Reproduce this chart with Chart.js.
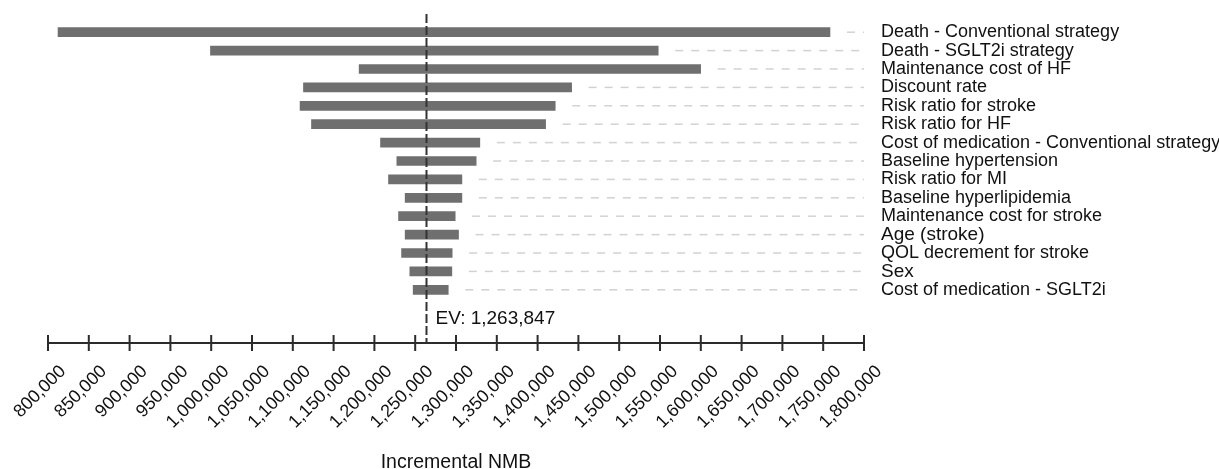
<!DOCTYPE html>
<html>
<head>
<meta charset="utf-8">
<script src="https://cdn.jsdelivr.net/npm/chart.js@4"></script>
<style>
  body { margin: 0; background: #fff; }
  canvas { display: block; }
</style>
</head>
<body>
<canvas id="tornado" width="1219" height="469"></canvas>
<script>
// parameters, top to bottom
const params = [
  'Death - Conventional strategy',
  'Death - SGLT2i strategy',
  'Maintenance cost of HF',
  'Discount rate',
  'Risk ratio for stroke',
  'Risk ratio for HF',
  'Cost of medication - Conventional strategy',
  'Baseline hypertension',
  'Risk ratio for MI',
  'Baseline hyperlipidemia',
  'Maintenance cost for stroke',
  'Age (stroke)',
  'QOL decrement for stroke',
  'Sex',
  'Cost of medication - SGLT2i'
];
// incremental NMB at low / high end of each range
const lowNMB = [812300, 999100, 1181300, 1113100, 1108900, 1122900, 1207500, 1227500,
  1217300, 1237700, 1229600, 1237700, 1233300, 1243400, 1247500];
const highNMB = [1758300, 1547800, 1599800, 1441700, 1421600, 1409800, 1329200, 1324700,
  1307200, 1307200, 1299000, 1303100, 1295300, 1294900, 1290500];
const evValue = 1263847;
const axisMin = 800000;
const axisMax = 1800000;
const axisStep = 50000;

const FONT = 'Arial, "Liberation Sans", sans-serif';
const fmt = v => Math.round(v).toString().replace(/\B(?=(\d{3})+(?!\d))/g, ',');

// dashed guides from bar end to right edge
const guideLines = {
  id: 'guideLines',
  beforeDatasetsDraw(chart) {
    const { ctx } = chart;
    const x = chart.scales.x, y = chart.scales.y;
    ctx.save();
    ctx.strokeStyle = '#d2d2d2';
    ctx.lineWidth = 1.5;
    ctx.setLineDash([8, 8]);
    highNMB.forEach((v, i) => {
      const py = y.getPixelForValue(i);
      ctx.beginPath();
      ctx.moveTo(x.getPixelForValue(v) + 17, py);
      ctx.lineTo(x.getPixelForValue(axisMax), py);
      ctx.stroke();
    });
    ctx.restore();
  }
};

// axis line with crossing ticks, EV line and label
const evAxis = {
  id: 'evAxis',
  afterDatasetsDraw(chart) {
    const { ctx, chartArea } = chart;
    const x = chart.scales.x;
    const axisY = chartArea.bottom + 44;
    ctx.save();
    ctx.strokeStyle = '#2b2b2b';
    ctx.lineWidth = 2;
    ctx.beginPath();
    ctx.moveTo(x.getPixelForValue(axisMin), axisY);
    ctx.lineTo(x.getPixelForValue(axisMax), axisY);
    x.ticks.forEach(t => {
      const px = x.getPixelForValue(t.value);
      ctx.moveTo(px, axisY - 8);
      ctx.lineTo(px, axisY + 8);
    });
    ctx.stroke();

    const ex = x.getPixelForValue(evValue);
    ctx.strokeStyle = '#333';
    ctx.setLineDash([9, 3]);
    ctx.beginPath();
    ctx.moveTo(ex, chartArea.top - 9);
    ctx.lineTo(ex, axisY);
    ctx.stroke();

    ctx.fillStyle = '#111';
    ctx.font = '19px ' + FONT;
    ctx.textBaseline = 'middle';
    ctx.fillText('EV: ' + fmt(evValue), ex + 9, axisY - 24);
    ctx.restore();
  }
};

new Chart(document.getElementById('tornado'), {
  type: 'bar',
  data: {
    labels: params,
    datasets: [{
      data: params.map((_, i) => [lowNMB[i], highNMB[i]]),
      backgroundColor: '#6f6f6f',
      borderWidth: 0,
      barThickness: 9
    }]
  },
  options: {
    indexAxis: 'y',
    responsive: false,
    animation: false,
    devicePixelRatio: 1,
    layout: { padding: { left: 48, top: 23, right: 0, bottom: 0 } },
    plugins: { legend: { display: false }, tooltip: { enabled: false } },
    scales: {
      x: {
        position: 'bottom',
        min: axisMin,
        max: axisMax,
        grid: { display: false, drawTicks: false },
        border: { display: false },
        afterFit(scale) {
          scale.height = 170;
          scale.paddingLeft = 0;
          scale.paddingRight = 0;
        },
        ticks: {
          stepSize: axisStep,
          autoSkip: false,
          minRotation: 45,
          maxRotation: 45,
          padding: 62,
          labelOffset: 15,
          color: '#111',
          font: { family: FONT, size: 18 },
          callback: v => fmt(v)
        },
        title: {
          display: true,
          text: 'Incremental NMB',
          color: '#111',
          font: { family: FONT, size: 19.5 },
          padding: { top: 0, bottom: -5 }
        }
      },
      y: {
        position: 'right',
        grid: { display: false, drawTicks: false },
        border: { display: false },
        afterFit(scale) {
          scale.width = 355;
          scale.paddingTop = 0;
          scale.paddingBottom = 0;
        },
        ticks: {
          autoSkip: false,
          padding: 17,
          color: '#111',
          font: ctx => ({
            family: FONT,
            size: (ctx.tick && (ctx.tick.label === 'Age (stroke)' || ctx.tick.label === 'Sex')) ? 19 : 18
          })
        }
      }
    }
  },
  plugins: [guideLines, evAxis]
});
</script>
</body>
</html>
